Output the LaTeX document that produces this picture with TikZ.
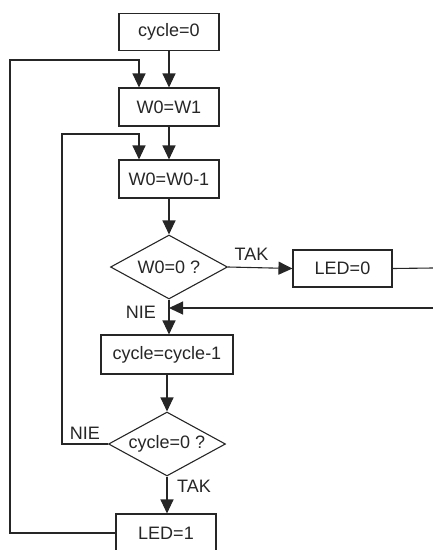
\documentclass[tikz,border=0pt]{standalone}
\usepackage{fontspec}
\setmainfont{Liberation Sans}
\usetikzlibrary{arrows.meta,shapes.geometric}
\begin{document}
\begin{tikzpicture}[x=1pt,y=-1pt,
  every node/.style={font=\fontsize{18}{20}\selectfont, text=black!85},
  box/.style={draw=black!85, line width=1.1pt, inner sep=0pt},
  dia/.style={draw=black!85, line width=1.1pt, shape=diamond, aspect=1.83, inner sep=0pt, minimum width=117pt, minimum height=64pt},
  lbl/.style={inner sep=0pt},
  ln/.style={draw=black!85, line width=1.1pt},
  arr/.style={ln, -{Triangle[length=14pt,width=13pt]}}]
\clip (0,0) rectangle (433,550);
\useasboundingbox (0,0) rectangle (433,550);
\node[box, minimum width=100pt, minimum height=37pt] (c0) at (169,32) {cycle=0};
\node[box, minimum width=100pt, minimum height=38pt] (w1) at (169,107) {W0=W1};
\node[box, minimum width=100pt, minimum height=38pt] (w2) at (169,179) {W0=W0-1};
\node[dia] (d1) at (169,267) {W0=0 ?};
\node[box, minimum width=99pt, minimum height=37pt] (l0) at (342.5,268.5) {LED=0};
\node[box, minimum width=132pt, minimum height=39pt] (cc) at (167,354.5) {cycle=cycle-1};
\node[dia] (d2) at (167,444) {cycle=0 ?};
\node[box, minimum width=100pt, minimum height=38pt] (l1) at (166,533) {LED=1};
\node[lbl] (tak1) at (251.5,254) {TAK};
\node[lbl] (nie1) at (141,312) {NIE};
\node[lbl] (nie2) at (85,433) {NIE};
\node[lbl] (tak2) at (194,486) {TAK};
\coordinate (o1) at (10,60);
\coordinate (i1) at (62,134);
\coordinate (r1) at (433,268);
\coordinate (r2) at (433,308);
\draw[arr] (c0.south) -- (w1.north);
\draw[arr] (w1.south) -- (w2.north);
\draw[arr] (w2.south) -- (d1.north);
\draw[arr] (d1.east) -- (l0.west);
\draw[ln] (l0.east) -- (r1);
\draw[arr] (d1.south) -- (d1.south |- cc.north);
\draw[arr] (r2) -- (d1.south |- r2);
\draw[arr] (cc.south) -- (cc.south |- d2.north);
\draw[arr] (d2.south) -- (d2.south |- l1.north);
\draw[arr] (l1.west) -| (o1) -| ([xshift=-30pt]w1.north);
\draw[arr] (d2.west) -| (i1) -| ([xshift=-30pt]w2.north);
\end{tikzpicture}
\end{document}
